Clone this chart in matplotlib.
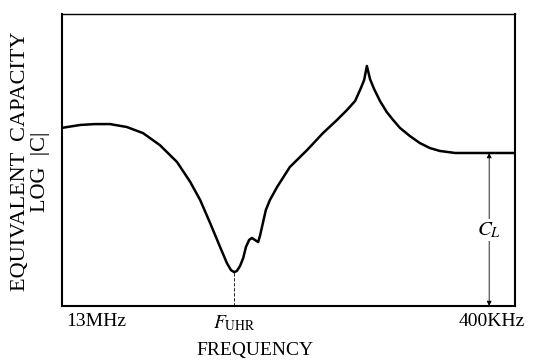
import matplotlib
matplotlib.use("Agg")
from matplotlib import pyplot as plt

# frequency position (0 = 13MHz side, 100 = 400KHz side) and log|C| (arbitrary units)
freqPos = [0, 4.0, 7.3, 10.6, 14.3, 17.9, 21.6, 25.4, 28.3, 30.5, 32.7, 34.9, 36.4, 37.3,
           38.0, 38.6, 39.3, 40.0, 40.6, 41.3, 41.9, 42.6, 43.3, 43.7, 44.4, 45.0, 45.9,
           47.5, 50.3, 54.1, 57.6, 60.7, 62.9, 64.7, 66.0, 66.7, 67.3, 68.0, 68.9, 70.2,
           71.7, 73.1, 74.6, 76.8, 79.0, 81.2, 83.4, 86.8, 90.1, 100]
logC = [61.0, 62.0, 62.3, 62.3, 61.3, 59.2, 55.1, 49.3, 42.5, 36.3, 28.4, 20.2, 14.7, 12.3,
        11.6, 12.0, 13.7, 16.4, 20.2, 22.6, 23.3, 22.6, 21.9, 24.0, 28.8, 32.9, 36.3,
        40.8, 47.6, 53.4, 59.2, 63.7, 67.1, 70.2, 74.7, 77.4, 82.2, 77.7, 74.3, 70.2,
        66.4, 63.7, 61.0, 58.2, 55.8, 54.1, 53.1, 52.4, 52.4, 52.4]

fUhr = 38.0
fUhrLevel = 11.6
cLpos = 94.3
cLlevel = 52.4

tickPos = [7.5, fUhr, 94.9]
tickLabels = ["13MHz", r"$F_{\mathrm{UHR}}$", "400KHz"]

plt.rcParams["font.family"] = ["Liberation Serif", "DejaVu Serif"]
plt.rcParams["mathtext.fontset"] = "stix"

fig = plt.figure(figsize=(5.33, 3.61), dpi=100)
ax = fig.add_axes([62/533, 1-306/361, (515-62)/533, (306-14)/361])
ax.plot(freqPos, logC, color="black", linewidth=1.8, solid_joinstyle="round")
ax.set_xlim(0, 100)
ax.set_ylim(0, 100)

# dashed marker at the upper hybrid frequency
ax.plot([fUhr, fUhr], [0, fUhrLevel], color="black", linewidth=0.6, linestyle=(0, (4, 2)))

# C_L double arrow
ax.annotate("", xy=(cLpos, cLlevel), xytext=(cLpos, 0),
            arrowprops=dict(arrowstyle="<|-|>", color="black", linewidth=0.6,
                            mutation_scale=7, shrinkA=0, shrinkB=0))
ax.text(cLpos, 26, r"$C_L$", fontsize=15, ha="center", va="center",
        bbox=dict(facecolor="white", edgecolor="none", pad=1))

ax.set_xticks(tickPos)
ax.set_xticklabels(tickLabels, fontsize=14)
ax.tick_params(axis="x", length=0, pad=5)
ax.set_yticks([])
for s in ax.spines.values():
    s.set_linewidth(1.5)
ax.spines["top"].set_linewidth(1.0)

fig.text(255/533, 1-350/361, "FREQUENCY", fontsize=14, ha="center", va="center")
fig.text(21/533, 1-161/361, "EQUIVALENT  CAPACITY", fontsize=16, rotation=90,
         ha="center", va="center")
fig.text(40/533, 1-172/361, "LOG  |C|", fontsize=16, rotation=90,
         ha="center", va="center")

fig.savefig("out.png", dpi=100)
